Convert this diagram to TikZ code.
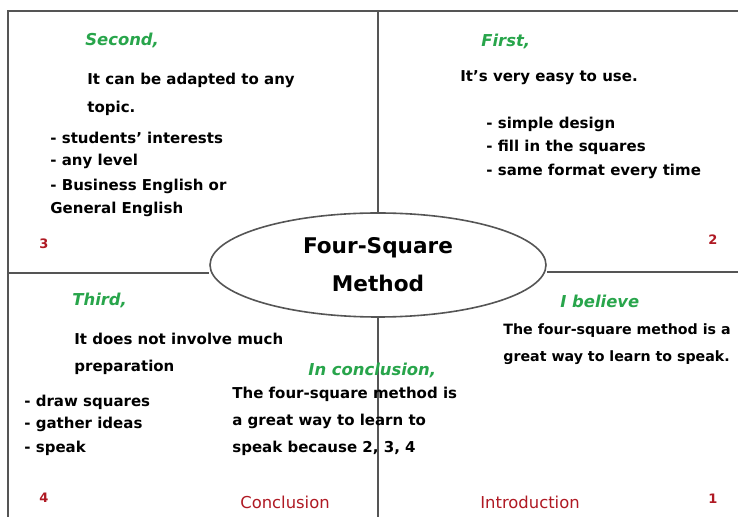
\documentclass[tikz,border=0pt]{standalone}
\usepackage{fontspec}
\setmainfont{DejaVu Sans}
\usepackage{tikz}
\usetikzlibrary{shapes.geometric}
\definecolor{headgreen}{RGB}{40,165,75}
\definecolor{tagred}{RGB}{175,25,35}
\definecolor{framegray}{RGB}{85,85,85}

\begin{document}
\begin{tikzpicture}[x=0.5pt,y=-0.5pt,
  body/.style={anchor=west,inner sep=0pt,font=\fontsize{7.5}{9}\selectfont\bfseries},
  head/.style={anchor=west,inner sep=0pt,text=headgreen,font=\fontsize{8.2}{10}\selectfont\bfseries\itshape},
  tag/.style={inner sep=0pt,text=tagred,font=\fontsize{8.2}{10}\selectfont},
  num/.style={inner sep=0pt,text=tagred,font=\fontsize{6.5}{8}\selectfont\bfseries},
  frame/.style={draw=framegray,line width=0.8pt}]
\useasboundingbox (0,0) rectangle (738,517);
\coordinate (tl) at (8,11);
\coordinate (tr) at (738,11);
\coordinate (bl) at (8,517);
\coordinate (tm) at (378,11);
\coordinate (bm) at (378,517);
\coordinate (ml) at (8,273);
\coordinate (mr) at (738,272);
\node[ellipse,frame,fill=white,minimum width=168pt,minimum height=52pt,align=center,
  font=\fontsize{10.8}{19}\selectfont\bfseries] (hub) at (378,265) {Four-Square\\Method};
\draw[frame] (tr) -- (tl) -- (bl);
\draw[frame] (tm) -- (hub.north);
\draw[frame] (hub.south) -- (bm);
\draw[frame] (ml) -- (ml -| hub.west);
\draw[frame] (hub.east |- mr) -- (mr);

\node[head] (second) at (85,40) {Second,};
\node[body] (secA) at (87,80) {It can be adapted to any};
\node[body] (secB) at (87,108) {topic.};
\node[body] (secC) at (50,138) {- students' interests};
\node[body] (secD) at (50,161) {- any level};
\node[body] (secE) at (50,186) {- Business English or};
\node[body] (secF) at (50,209) {General English};
\node[num] (n3) at (44,244) {3};

\node[head] (first) at (481,41) {First,};
\node[body] (firA) at (460,78) {It's very easy to use.};
\node[body] (firB) at (486,124) {- simple design};
\node[body] (firC) at (486,147) {- fill in the squares};
\node[body] (firD) at (486,171) {- same format every time};
\node[num] (n2) at (713,240) {2};

\node[head] (third) at (72,300) {Third,};
\node[body] (thiA) at (74,339) {It does not involve much};
\node[body] (thiB) at (74,367) {preparation};
\node[body] (thiC) at (24,402) {- draw squares};
\node[body] (thiD) at (24,424) {- gather ideas};
\node[body] (thiE) at (24,448) {- speak};
\node[num] (n4) at (44,498) {4};

\node[head] (concl) at (308,370) {In conclusion,};
\node[body] (conA) at (232,394) {The four-square method is};
\node[body] (conB) at (232,421) {a great way to learn to};
\node[body] (conC) at (232,448) {speak because 2, 3, 4};
\node[tag] (tconc) at (285,502) {Conclusion};

\node[head] (believe) at (560,301) {I believe};
\node[body,font=\fontsize{7.1}{9}\selectfont\bfseries] (belA) at (503,331) {The four-square method is a};
\node[body,font=\fontsize{7.1}{9}\selectfont\bfseries] (belB) at (503,358) {great way to learn to speak.};
\node[tag] (tintro) at (530,502) {Introduction};
\node[num] (n1) at (713,499) {1};
\end{tikzpicture}
\end{document}
